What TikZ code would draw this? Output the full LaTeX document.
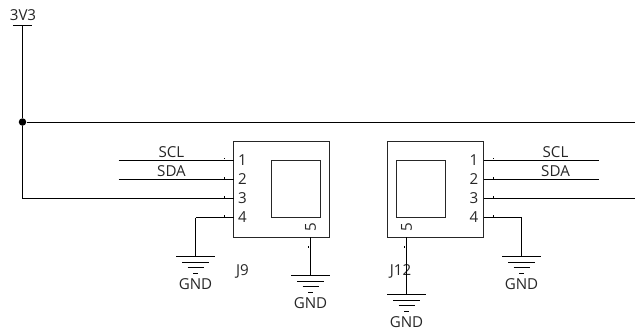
\documentclass[tikz,border=0pt]{standalone}
\usepackage{fontspec}
\setmainfont{Open Sans}
\newcommand{\gndsym}[3]{
\coordinate (#1) at (#2,#3);
\draw [wire] (#2-1.95,#3) -- (#2+1.95,#3);
\draw [wire] (#2-1.35,#3-0.6) -- (#2+1.35,#3-0.6);
\draw [wire] (#2-0.8,#3-1.15) -- (#2+0.8,#3-1.15);
\draw [wire] (#2-0.25,#3-1.7) -- (#2+0.25,#3-1.7);
\node [lbl] (#1txt) at (#2,#3-2.85) {GND};
}
\newcommand{\pindot}[2]{\fill [black] (#1-0.06,#2-0.06) rectangle (#1+0.06,#2+0.06);}
\begin{document}
\begin{tikzpicture}[scale=0.2]
\tikzstyle{every node}+=[inner sep=0pt]
\tikzstyle{wire}=[black, line width=0.55pt]
\tikzstyle{lbl}=[font=\fontsize{8.6}{10}\selectfont, text=black!85]
\tikzstyle{body}=[draw=black!85, line width=0.55pt]
\useasboundingbox (-0.05,0) rectangle (63.45,-33.1);
% supply
\node [lbl] (vlbl) at (2.25,-1.5) {3V3};
\coordinate (vcc) at (2.2,-2.55);
\draw [wire] (1.25,-2.55) -- (3.2,-2.55);
\node [circle, fill=black, minimum size=0.15cm] (jct) at (2.2,-12.2) {};
\coordinate (topend) at (63.5,-12.2);
\coordinate (corner) at (2.2,-19.85);
\draw [wire] (vcc) -- (jct);
\draw [wire] (jct) -- (corner);
\draw [wire] (jct) -- (topend);
% J9
\node [body, minimum width=1.93cm, minimum height=1.92cm] (jnine) at (28.12,-18.9) {};
\node [body, minimum width=0.97cm, minimum height=1.14cm] (jninewin) at (29.57,-18.85) {};
\coordinate (ja) at (23.3,-16);
\coordinate (jb) at (23.3,-17.9);
\coordinate (jc) at (23.3,-19.85);
\coordinate (jd) at (23.3,-21.75);
\coordinate (je) at (31,-23.7);
\coordinate (sclL) at (11.8,-16);
\coordinate (sdaL) at (11.8,-17.9);
\coordinate (gndaturn) at (19.5,-21.75);
\draw [wire] (sclL) -- (ja);
\draw [wire] (sdaL) -- (jb);
\draw [wire] (corner) -- (jc);
\draw [wire] (jd) -- (gndaturn);
\node [lbl] (na) at (24.2,-16) {1};
\node [lbl] (nb) at (24.2,-17.95) {2};
\node [lbl] (nc) at (24.2,-19.85) {3};
\node [lbl] (nd) at (24.2,-21.75) {4};
\node [lbl, rotate=90] (ne) at (31,-22.75) {5};
\node [lbl] (sclLtxt) at (17.1,-15.2) {SCL};
\node [lbl] (sdaLtxt) at (17.1,-17.15) {SDA};
\node [lbl] (jninetxt) at (24.2,-27.1) {J9};
\pindot{22.4}{-15.85}
\pindot{22.4}{-17.8}
\pindot{22.4}{-19.7}
\pindot{22.4}{-21.6}
\pindot{30.8}{-24.7}
\gndsym{gnda}{19.5}{-25.6}
\gndsym{gndb}{31}{-27.5}
\draw [wire] (gndaturn) -- (gnda);
\draw [wire] (je) -- (gndb);
% J12
\node [body, minimum width=1.93cm, minimum height=1.92cm] (jtwelve) at (43.5,-18.9) {};
\node [body, minimum width=0.97cm, minimum height=1.14cm] (jtwelvewin) at (42.05,-18.85) {};
\coordinate (ka) at (48.3,-16);
\coordinate (kb) at (48.3,-17.9);
\coordinate (kc) at (48.3,-19.85);
\coordinate (kd) at (48.3,-21.75);
\coordinate (ke) at (40.6,-23.7);
\coordinate (sclR) at (59.8,-16);
\coordinate (sdaR) at (59.8,-17.9);
\coordinate (thirdend) at (63.5,-19.85);
\coordinate (gndcturn) at (52.1,-21.75);
\draw [wire] (ka) -- (sclR);
\draw [wire] (kb) -- (sdaR);
\draw [wire] (kc) -- (thirdend);
\draw [wire] (kd) -- (gndcturn);
\node [lbl] (ma) at (47.35,-16) {1};
\node [lbl] (mb) at (47.35,-17.95) {2};
\node [lbl] (mc) at (47.35,-19.85) {3};
\node [lbl] (md) at (47.35,-21.75) {4};
\node [lbl, rotate=90] (me) at (40.6,-22.75) {5};
\node [lbl] (sclRtxt) at (55.5,-15.2) {SCL};
\node [lbl] (sdaRtxt) at (55.5,-17.15) {SDA};
\node [lbl] (jtwelvetxt) at (40,-27.1) {J12};
\pindot{49.3}{-15.85}
\pindot{49.3}{-17.8}
\pindot{49.3}{-19.7}
\pindot{49.3}{-21.6}
\pindot{40.4}{-24.7}
\gndsym{gndc}{52.1}{-25.6}
\gndsym{gndd}{40.6}{-29.4}
\draw [wire] (gndcturn) -- (gndc);
\draw [wire] (ke) -- (gndd);
\end{tikzpicture}
\end{document}
